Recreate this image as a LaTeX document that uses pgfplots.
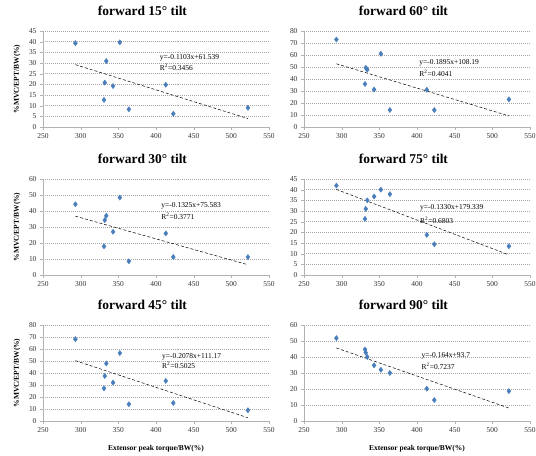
\documentclass[border=0pt]{standalone}
\usepackage{fontspec}
\setmainfont{Liberation Serif}
\usepackage{pgfplots}
\pgfplotsset{compat=1.18}
\definecolor{mk}{HTML}{4A7EBB}
\definecolor{gridc}{HTML}{A6A6A6}

\pgfplotsset{
  tiltax/.style={
    scale only axis, width=226bp, height=96bp,
    xmin=250, xmax=550, ymin=0,
    xtick={250,300,...,550},
    axis x line=bottom, axis y line=left,
    axis line style={gray!60,-}, tick style={gray!60},
    major tick length=3bp, tick align=outside,
    ymajorgrids, grid style={gridc, dash pattern=on 1pt off 1pt, line width=0.4pt},
    ticklabel style={font=\fontsize{7.5}{8}\selectfont, text=black!80},
    /pgf/number format/assume math mode=true,
    title style={at={(axis description cs:0.44,1.15)}, anchor=center,
      font=\fontsize{13.5}{15}\selectfont\bfseries},
    ylabel style={at={(axis description cs:-0.115,0.5)}, anchor=center,
      font=\fontsize{7.5}{8}\selectfont\bfseries},
    xlabel style={at={(axis description cs:0.5,-0.29)}, anchor=center,
      font=\fontsize{7.5}{8}\selectfont\bfseries},
  },
  pts/.style={only marks, mark=diamond*, mark size=2.6bp, color=mk},
  trend/.style={black, densely dashed, line width=0.5pt, mark=none},
}
\tikzset{eq/.style={anchor=west, font=\fontsize{7.5}{8}\selectfont, inner sep=0pt}}

\begin{document}
\begin{tikzpicture}
\useasboundingbox (0,0) rectangle (536bp,456bp);

% forward 15
\begin{axis}[tiltax, at={(43bp,329bp)}, anchor=south west,
  ymax=45, ytick={0,5,...,45},
  title={forward 15\textdegree{} tilt}, ylabel={\%MVC/EPT/BW(\%)}]
\addplot[pts] coordinates {(293,39.3) (331,12.7) (332,20.8) (334,30.9) (343,19.2)
  (352,39.7) (364,8.3) (413,19.8) (423,6.2) (522,9.0)};
\addplot[trend] coordinates {(293,29.22) (522,3.96)};
\node[eq] at (axis cs:405,32.3) {y=-0.1103x+61.539};
\node[eq] at (axis cs:405,28.0) {R\textsuperscript{2}=0.3456};
\end{axis}

% forward 60
\begin{axis}[tiltax, at={(304bp,329bp)}, anchor=south west,
  ymax=80, ytick={0,10,...,80},
  title={forward 60\textdegree{} tilt}]
\addplot[pts] coordinates {(293,72.9) (331,35.8) (332,49.3) (334,47.8) (343,31.2)
  (352,61.0) (364,14.2) (413,31.0) (423,14.1) (522,23.0)};
\addplot[trend] coordinates {(293,52.67) (522,9.27)};
\node[eq] at (axis cs:403,53.8) {y=-0.1895x+108.19};
\node[eq] at (axis cs:403,44.4) {R\textsuperscript{2}=0.4041};
\end{axis}

% forward 30
\begin{axis}[tiltax, at={(43bp,181bp)}, anchor=south west,
  ymax=60, ytick={0,10,...,60},
  title={forward 30\textdegree{} tilt}, ylabel={\%MVC/EPT/BW(\%)}]
\addplot[pts] coordinates {(293,44.2) (331,17.9) (332,34.3) (334,37.0) (343,27.0)
  (352,48.4) (364,8.6) (413,26.0) (423,11.2) (522,11.2)};
\addplot[trend] coordinates {(293,36.76) (522,6.42)};
\node[eq] at (axis cs:407,43.0) {y=-0.1325x+75.583};
\node[eq] at (axis cs:407,36.9) {R\textsuperscript{2}=0.3771};
\end{axis}

% forward 75
\begin{axis}[tiltax, at={(304bp,181bp)}, anchor=south west,
  ymax=45, ytick={0,5,...,45},
  title={forward 75\textdegree{} tilt}]
\addplot[pts] coordinates {(293,41.9) (331,26.3) (332,31.0) (334,35.0) (343,36.8)
  (352,40.0) (364,37.9) (413,18.8) (423,14.4) (522,13.5)};
\addplot[trend] coordinates {(293,40.11) (522,9.44)};
\node[eq] at (axis cs:404,31.3) {y=-0.1330x+179.339};
\node[eq] at (axis cs:404,25.8) {R\textsuperscript{2}=0.6803};
\end{axis}

% forward 45
\begin{axis}[tiltax, at={(43bp,35bp)}, anchor=south west,
  ymax=80, ytick={0,10,...,80},
  title={forward 45\textdegree{} tilt}, ylabel={\%MVC/EPT/BW(\%)},
  xlabel={Extensor peak torque/BW(\%)}]
\addplot[pts] coordinates {(293,68.2) (331,27.2) (332,37.5) (334,47.9) (343,32.0)
  (352,56.6) (364,14.0) (413,33.4) (423,15.0) (522,9.0)};
\addplot[trend] coordinates {(293,50.28) (522,2.70)};
\node[eq] at (axis cs:408,53.2) {y=-0.2078x+111.17};
\node[eq] at (axis cs:408,46.0) {R\textsuperscript{2}=0.5025};
\end{axis}

% forward 90
\begin{axis}[tiltax, at={(304bp,35bp)}, anchor=south west,
  ymax=60, ytick={0,10,...,60},
  title={forward 90\textdegree{} tilt},
  xlabel={Extensor peak torque/BW(\%)}]
\addplot[pts] coordinates {(293,51.8) (331,44.7) (332,42.7) (334,40.0) (343,34.8)
  (352,32.0) (364,30.0) (413,20.2) (423,13.1) (522,18.7)};
\addplot[trend] coordinates {(293,45.65) (522,8.09)};
\node[eq] at (axis cs:406,40.5) {y=-0.164x+93.7};
\node[eq] at (axis cs:406,34.3) {R\textsuperscript{2}=0.7237};
\end{axis}
\end{tikzpicture}
\end{document}
